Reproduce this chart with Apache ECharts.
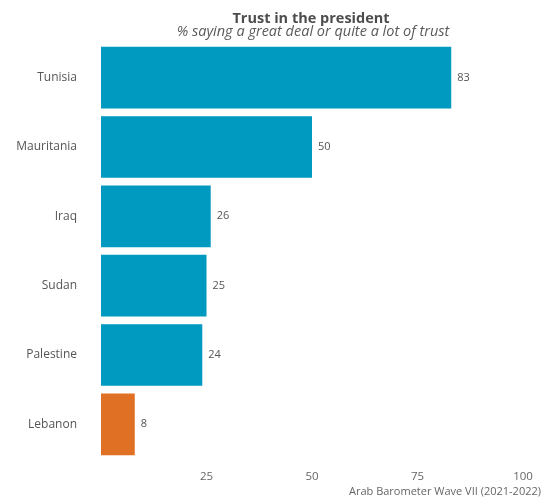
<!DOCTYPE html>
<html><head><meta charset="utf-8">
<script src="https://cdn.jsdelivr.net/npm/echarts@6/dist/echarts.min.js"></script>
<style>html,body{margin:0;padding:0;background:#fff}#c{width:549px;height:504px}</style>
</head><body><div id="c"></div>
<script>
const categories = ["Tunisia","Mauritania","Iraq","Sudan","Palestine","Lebanon"];
const values = [83, 50, 26, 25, 24, 8];
const highlight = ["Lebanon"];
const tickValues = [0, 25, 50, 75, 100];
const titleText = "Trust in the president";
const subtitleText = "% saying a great deal or quite a lot of trust";
const captionText = "Arab Barometer Wave VII (2021-2022)";

const FONT = "'Open Sans', sans-serif";
const chart = echarts.init(document.getElementById('c'), null, {renderer:'canvas'});
chart.setOption({
  animation: false,
  backgroundColor: '#fff',
  textStyle: {fontFamily: FONT},
  title: [
    {text: titleText, left: 306, top: 6, textAlign: 'center',
     textStyle: {fontFamily: FONT, fontSize: 14.5, fontWeight: 'bold', color: '#4d4d4d'}},
    {text: subtitleText, left: 308, top: 19, textAlign: 'center',
     textStyle: {fontFamily: FONT, fontSize: 14.5, fontStyle: 'italic', fontWeight: 'normal', color: '#5a5a5a'}},
    {text: captionText, right: 3, bottom: 2,
     textStyle: {fontFamily: FONT, fontSize: 11, fontWeight: 'normal', color: '#666'}}
  ],
  grid: {left: 101, right: 26, top: 43, bottom: 45, containLabel: false},
  xAxis: {
    type: 'value', min: 0, max: 100, interval: 25,
    axisLine: {show: false}, axisTick: {show: false}, splitLine: {show: false},
    axisLabel: {fontFamily: FONT, fontSize: 11.5, color: '#666', margin: 12,
      formatter: v => (v === 0 ? '' : String(v))}
  },
  yAxis: {
    type: 'category', data: categories, inverse: true,
    axisLine: {show: false}, axisTick: {show: false}, splitLine: {show: false},
    axisLabel: {fontFamily: FONT, fontSize: 12, color: '#555', margin: 24}
  },
  series: [{
    type: 'bar', barCategoryGap: '11%',
    data: categories.map((c, i) => ({
      value: values[i],
      itemStyle: {color: highlight.includes(c) ? '#E07023' : '#0099C0'}
    })),
    label: {show: true, position: 'right', distance: 6, fontFamily: FONT, fontSize: 11, color: '#555'}
  }]
});
</script></body></html>
